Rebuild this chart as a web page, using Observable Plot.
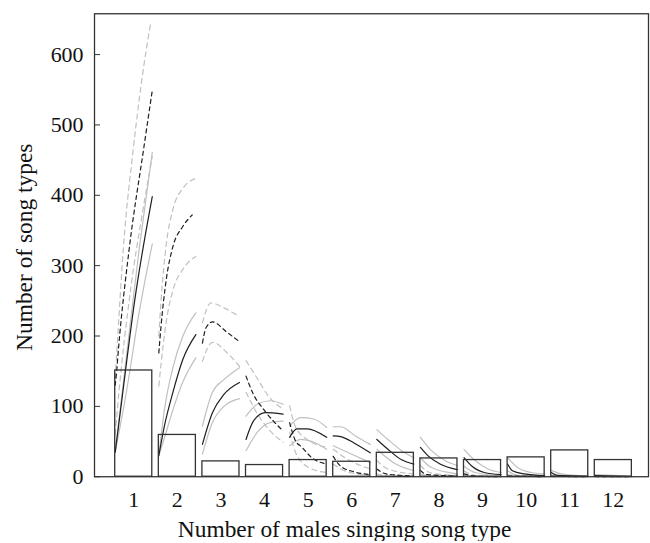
<!DOCTYPE html>
<html>
<head>
<meta charset="utf-8">
<script src="https://cdn.jsdelivr.net/npm/d3@7"></script>
<script src="https://cdn.jsdelivr.net/npm/@observablehq/plot@0.6"></script>
<style>
  html, body { margin: 0; padding: 0; background: #fff; }
  #chart svg { display: block; }
</style>
</head>
<body>
<div id="chart"></div>
<script>
// Categories: number of males singing a song type
const males = [1, 2, 3, 4, 5, 6, 7, 8, 9, 10, 11, 12];
// Observed number of song types (bars)
const observed = [151, 59.4, 21.8, 16.6, 23.7, 21.3, 34, 26, 23.7, 27.5, 37.4, 23.7];
// Y-axis ticks
const yTicks = [0, 100, 200, 300, 400, 500, 600];

// Simulated curves within each category: [fraction across bar, number of song types]
// Solid model: mean (black) and bounds (grey)
const solidMean = [
  [[0,35],[0.18,110],[0.53,252],[1,398]],
  [[0,30],[0.15,72],[0.38,120],[0.65,167],[1,202]],
  [[0,46],[0.27,91],[0.58,117],[1,134]],
  [[0,53],[0.2,79],[0.52,91],[1,89]],
  [[0,56],[0.2,68],[0.47,68],[1,56]],
  [[0,58],[0.2,57],[0.56,48],[1,34]],
  [[0,53],[0.3,39],[0.67,24],[1,18]],
  [[0,41.6],[0.2,30],[0.53,18],[1,10]],
  [[0,27],[0.2,15.6],[0.55,6],[1,3]],
  [[0,18],[0.13,8.5],[0.45,4],[1,1.5]],
  [[0,6],[0.17,2],[1,0.5]],
  [[0,1.5],[1,0.3]]
];
const solidUpper = [
  [[0,35],[0.3,170],[0.65,325],[1,461]],
  [[0,30],[0.15,95],[0.38,155],[0.65,200],[1,233]],
  [[0,72],[0.27,120],[0.58,138],[1,155]],
  [[0,86],[0.3,103],[0.65,108],[1,103]],
  [[0,72],[0.3,84],[0.65,82],[1,70]],
  [[0,71],[0.2,71],[0.6,58],[1,46]],
  [[0,67],[0.3,53],[0.67,37],[1,27]],
  [[0,56],[0.3,37],[0.66,23],[1,15.6]],
  [[0,39],[0.3,23],[0.65,11],[1,6]],
  [[0,27],[0.27,13],[0.63,6],[1,4]],
  [[0,9],[0.27,4],[1,1]],
  [[0,3],[1,1]]
];
const solidLower = [
  [[0,35],[0.3,120],[0.65,235],[1,331]],
  [[0,30],[0.15,55],[0.38,95],[0.65,135],[1,169]],
  [[0,32],[0.27,77],[0.58,100],[1,111]],
  [[0,37],[0.3,63],[0.65,77],[1,79]],
  [[0,44],[0.3,53],[0.65,49],[1,39]],
  [[0,44],[0.4,34.5],[1,20]],
  [[0,39],[0.45,20],[1,8.5]],
  [[0,27],[0.3,13],[1,4]],
  [[0,15],[0.3,6],[1,1]],
  [[0,8.5],[0.27,2],[1,0.5]],
  [[0,3],[0.3,0.5],[1,0]],
  [[0,0.5],[1,0]]
];
// Dashed model: mean (black) and bounds (grey)
const dashedMean = [
  [[0,130],[0.04,151],[0.09,183],[0.38,325],[0.77,467],[1,549]],
  [[0,176],[0.06,214],[0.2,280],[0.38,327],[0.65,356],[0.9,372]],
  [[0,190],[0.1,212],[0.27,220],[0.67,205],[1,192]],
  [[0,143],[0.2,117],[0.47,96],[0.74,79],[1,65]],
  [[0,77],[0.15,52],[0.33,42],[0.6,27],[1,18]],
  [[0,29],[0.2,15],[0.56,7],[1,3]],
  [[0,11],[0.25,4],[1,1]],
  [[0,9],[0.17,3],[1,1]],
  [[0,4],[0.3,1],[1,0]],
  [[0,1],[1,0]],
  [[0,0.5],[1,0]],
  [[0,0.3],[1,0]]
];
const dashedUpper = [
  [[0,140],[0.05,183],[0.22,325],[0.49,467],[0.71,561],[0.96,646]],
  [[0,200],[0.06,250],[0.2,330],[0.38,380],[0.65,410],[1,424]],
  [[0,219],[0.23,247],[0.58,240],[0.92,230]],
  [[0,165],[0.3,140],[0.6,115],[1,96]],
  [[0,101],[0.15,72],[0.47,53],[1,42]],
  [[0,39],[0.38,25],[1,11]],
  [[0,23],[0.3,11],[1,4]],
  [[0,16],[0.3,5],[1,2]],
  [[0,8],[0.3,2],[1,0]],
  [[0,3],[0.3,1],[1,0]],
  [[0,1],[1,0]],
  [[0,0.5],[1,0]]
];
const dashedLower = [
  [[0,60],[0.1,120],[0.4,260],[0.75,380],[1,455]],
  [[0,129],[0.06,160],[0.2,220],[0.38,265],[0.65,295],[1,313]],
  [[0,164],[0.27,191],[0.67,176],[1,157]],
  [[0,120],[0.3,90],[0.6,68],[1,49]],
  [[0,63],[0.2,30],[0.6,11],[1,6]],
  [[0,18],[0.38,7],[1,2]],
  [[0,4],[0.3,1],[1,0]],
  [[0,4],[0.3,1],[1,0]],
  [[0,1],[1,0]],
  [[0,0],[1,0]],
  [[0,0],[1,0]],
  [[0,0],[1,0]]
];

const halfBar = 0.425;
const bars = males.map((k, i) => ({k, n: observed[i]}));
function flatten(name, arr) {
  const out = [];
  arr.forEach((pts, i) => {
    const k = males[i];
    pts.forEach(([t, v]) => out.push({series: name, k, x: k - halfBar + t * 2 * halfBar, v}));
  });
  return out;
}
const sMean = flatten("sm", solidMean);
const sUp = flatten("su", solidUpper);
const sLo = flatten("sl", solidLower);
const dMean = flatten("dm", dashedMean);
const dUp = flatten("du", dashedUpper);
const dLo = flatten("dl", dashedLower);

const grey = "#c0c0c0";
const dark = "#1e1e1e";
const lineOpts = (stroke, dash) => ({
  x: "x", y: "v", z: "k", stroke, strokeWidth: 1.2,
  strokeDasharray: dash, curve: "monotone-x"
});

const chart = Plot.plot({
  width: 652,
  height: 543,
  marginLeft: 94.3,
  marginRight: 2,
  marginTop: 13.3,
  marginBottom: 65.3,
  style: {fontFamily: "'Liberation Serif', serif", fontSize: "22px", color: "#111", background: "#fff"},
  x: {type: "linear", domain: [0.1, 12.807]},
  y: {domain: [0, 658]},
  marks: [
    Plot.line(dLo, lineOpts(grey, "5,4")),
    Plot.line(dUp, lineOpts(grey, "5,4")),
    Plot.line(sLo, lineOpts(grey, null)),
    Plot.line(sUp, lineOpts(grey, null)),
    Plot.line(dMean, lineOpts(dark, "4,3.5")),
    Plot.line(sMean, lineOpts(dark, null)),
    Plot.rectY(bars, {x1: d => d.k - halfBar, x2: d => d.k + halfBar, y: "n", fill: "none", stroke: "#333", strokeWidth: 1.3}),
    Plot.frame({stroke: "#333", strokeWidth: 1.3}),
    Plot.axisY({ticks: yTicks, tickSize: -6, tickPadding: 17, label: null, stroke: "#333", fontSize: 22}),
    Plot.axisX({ticks: males, tickSize: 0, tickPadding: 15, label: null, tickFormat: d => String(d), fontSize: 22}),
    Plot.text(["Number of males singing song type"], {frameAnchor: "bottom", lineAnchor: "middle", dx: -27, dy: 53, fontSize: 23.5}),
    Plot.text(["Number of song types"], {frameAnchor: "left", textAnchor: "middle", lineAnchor: "middle", rotate: -90, dx: -70, dy: 2, fontSize: 23.5})
  ]
});
document.getElementById("chart").appendChild(chart);
</script>
</body>
</html>
